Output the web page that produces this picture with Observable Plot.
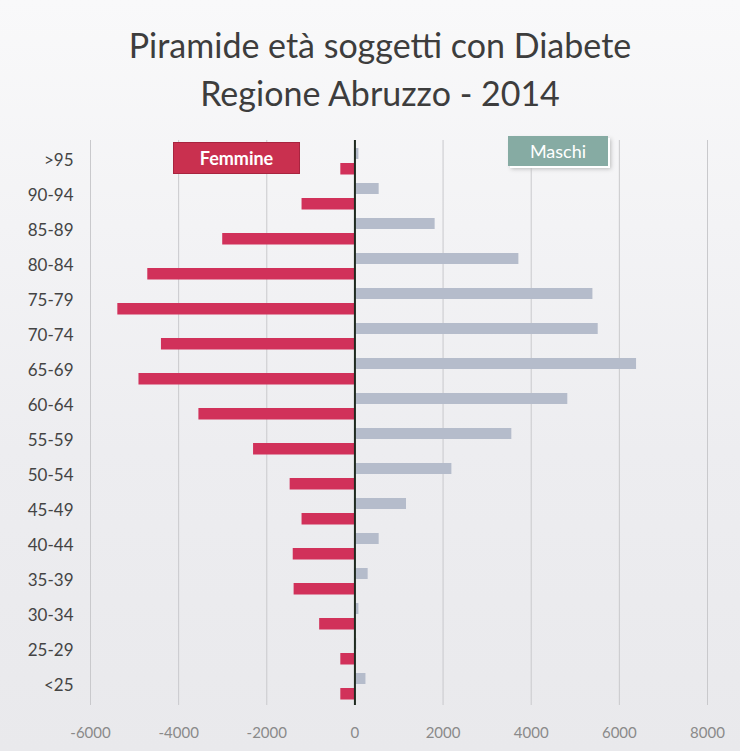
<!DOCTYPE html>
<html>
<head>
<meta charset="utf-8">
<script src="https://cdn.jsdelivr.net/npm/d3@7"></script>
<script src="https://cdn.jsdelivr.net/npm/@observablehq/plot@0.6"></script>
<style>
  html, body { margin: 0; padding: 0; }
  body { width: 740px; height: 751px; overflow: hidden; }
  #wrap { position: relative; width: 740px; height: 751px;
    background: linear-gradient(#f9f9fa, #ededf0 60%, #e9e9ec); font-family: Lato, "Open Sans", sans-serif; }
  .title { position: absolute; left: 20px; width: 720px; text-align: center; color: #3d3d3d; font-size: 34px; }
  #t1 { top: 24px; }
  #t2 { top: 72px; }
  #chart { position: absolute; left: 0; top: 130px; }
  .leg { position: absolute; color: #fff; font-weight: bold; font-size: 18px; text-align: center; line-height: 30px; height: 30px; }
  #legF { left: 173px; top: 142px; width: 125px; background: #c9304f; border: 1px solid #a8243f; }
  #legM { left: 508px; top: 136px; width: 100px; background: #86aba3; font-weight: normal; box-shadow: 2px 2px 0 #fff, 3px 3px 4px #bbb; }
</style>
</head>
<body>
<div id="wrap">
  <div class="title" id="t1">Piramide età soggetti con Diabete</div>
  <div class="title" id="t2">Regione Abruzzo - 2014</div>
  <div id="chart"></div>
  <div class="leg" id="legF">Femmine</div>
  <div class="leg" id="legM">Maschi</div>
</div>
<script>
const ages = [">95", "90-94", "85-89", "80-84", "75-79", "70-74", "65-69", "60-64",
              "55-59", "50-54", "45-49", "40-44", "35-39", "30-34", "25-29", "<25"];
const femmine = [-320, -1200, -3000, -4700, -5380, -4390, -4900, -3540,
                 -2300, -1470, -1200, -1400, -1380, -800, -320, -320];
const maschi = [90, 550, 1820, 3720, 5400, 5520, 6390, 4830,
                3560, 2200, 1170, 550, 300, 90, 40, 250];
const xTicks = [-6000, -4000, -2000, 0, 2000, 4000, 6000, 8000];

const dataF = ages.map((a, i) => ({age: a, value: femmine[i]}));
const dataM = ages.map((a, i) => ({age: a, value: maschi[i]}));

const chart = Plot.plot({
  width: 740,
  height: 621,
  marginTop: 10,
  marginBottom: 46,
  marginLeft: 90,
  marginRight: 33,
  style: {background: "transparent", fontFamily: "Lato, 'Open Sans', sans-serif"},
  x: {domain: [-6000, 8000]},
  y: {domain: ages, padding: 0},
  marks: [
    Plot.gridX(xTicks, {stroke: "#c9c9cc", strokeOpacity: 1}),
    Plot.axisX(xTicks, {tickSize: 0, tickPadding: 22, tickFormat: d => String(d), fill: "#8a8a8a", fontSize: 15, label: null}),
    Plot.axisY({tickSize: 0, tickPadding: 17, fill: "#444", fontSize: 17, label: null}),
    Plot.barX(dataM, {x: "value", y: "age", fill: "#b5bccb", insetTop: 5, insetBottom: 19}),
    Plot.barX(dataF, {x: "value", y: "age", fill: "#d1315a", insetTop: 20, insetBottom: 3.5}),
    Plot.ruleX([0], {stroke: "#1f2a1f", strokeWidth: 2})
  ]
});
document.getElementById("chart").appendChild(chart);
</script>
</body>
</html>
